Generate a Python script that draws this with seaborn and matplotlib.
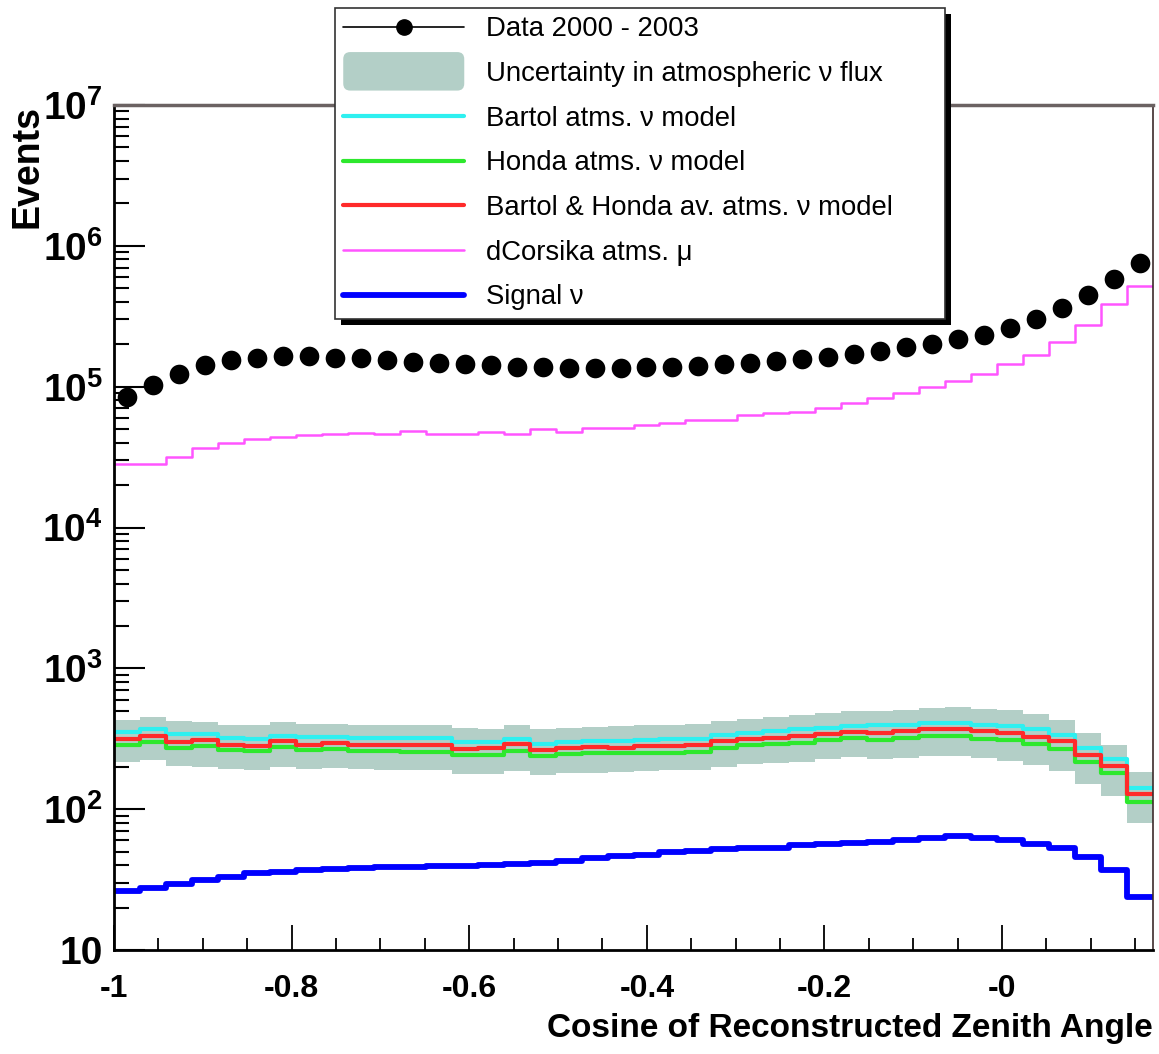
import numpy as np
import pandas as pd
import seaborn as sns
import matplotlib.pyplot as plt
from matplotlib.lines import Line2D
from matplotlib.patches import Patch, FancyBboxPatch, Rectangle
from matplotlib.legend_handler import HandlerPatch
from matplotlib.ticker import MultipleLocator, LogLocator, NullFormatter
from matplotlib.transforms import IdentityTransform

# Binning in cosine of the reconstructed zenith angle
cos_min, cos_max, n_bins = -1.0, 0.17, 40
edges = np.linspace(cos_min, cos_max, n_bins + 1)
centers = 0.5 * (edges[:-1] + edges[1:])

# Observed events per bin
data_events = [8.5e4, 1.03e5, 1.23e5, 1.42e5, 1.55e5, 1.60e5, 1.66e5, 1.66e5, 1.61e5, 1.59e5,
               1.55e5, 1.50e5, 1.48e5, 1.44e5, 1.42e5, 1.38e5, 1.37e5, 1.35e5, 1.35e5, 1.35e5,
               1.37e5, 1.38e5, 1.40e5, 1.45e5, 1.48e5, 1.53e5, 1.57e5, 1.63e5, 1.71e5, 1.79e5,
               1.90e5, 2.01e5, 2.17e5, 2.33e5, 2.60e5, 3.01e5, 3.60e5, 4.48e5, 5.78e5, 7.52e5]

# Simulated atmospheric muons (dCorsika)
corsika_mu = [2.81e4, 2.81e4, 3.18e4, 3.68e4, 4.00e4, 4.23e4, 4.41e4, 4.55e4, 4.60e4, 4.68e4,
              4.60e4, 4.81e4, 4.60e4, 4.60e4, 4.79e4, 4.60e4, 5.02e4, 4.76e4, 5.08e4, 5.08e4,
              5.38e4, 5.54e4, 5.80e4, 5.80e4, 6.29e4, 6.46e4, 6.64e4, 7.01e4, 7.61e4, 8.26e4,
              9.05e4, 9.98e4, 1.10e5, 1.24e5, 1.45e5, 1.69e5, 2.08e5, 2.74e5, 3.84e5, 5.18e5]

# Atmospheric neutrino models
bartol_nu = [353, 369, 344, 344, 320, 317, 330, 326, 328, 322,
             322, 320, 320, 301, 301, 317, 292, 301, 305, 304,
             312, 314, 317, 338, 350, 357, 369, 377, 392, 394,
             398, 409, 409, 398, 390, 369, 338, 270, 226, 142]
honda_nu = [285, 301, 273, 279, 263, 258, 277, 261, 267, 258,
            258, 255, 255, 242, 242, 258, 238, 245, 251, 249,
            251, 251, 255, 273, 285, 288, 297, 309, 320, 312,
            320, 330, 330, 317, 308, 292, 267, 215, 180, 113]
average_nu = [314, 331, 301, 308, 285, 282, 305, 285, 296, 285,
              285, 285, 285, 267, 270, 288, 263, 270, 277, 273,
              282, 282, 285, 304, 317, 321, 330, 344, 355, 350,
              357, 369, 369, 357, 350, 326, 304, 242, 203, 128]

# Uncertainty band of the atmospheric neutrino flux
flux_high = [428, 451, 421, 416, 398, 394, 416, 405, 405, 398,
             398, 398, 398, 377, 369, 398, 373, 377, 384, 390,
             394, 398, 405, 421, 439, 451, 463, 484, 495, 494,
             508, 522, 528, 516, 508, 476, 428, 350, 285, 185]
flux_low = [217, 223, 203, 200, 193, 190, 200, 193, 195, 193,
            190, 190, 190, 177, 177, 187, 175, 180, 182, 185,
            187, 190, 190, 200, 208, 211, 217, 226, 235, 226,
            232, 240, 240, 229, 219, 206, 187, 150, 125, 80]

# Signal neutrinos
signal_nu = [26.2, 27.4, 29.6, 31.2, 33.0, 35.0, 36.0, 36.8, 37.8, 38.4,
             39.0, 38.6, 39.2, 39.6, 40.0, 40.6, 41.6, 42.7, 45.1, 46.4,
             47.6, 49.5, 50.8, 52.5, 53.1, 53.3, 56.0, 56.9, 57.5, 58.5,
             60.1, 62.4, 64.9, 62.4, 60.1, 56.6, 53.1, 45.6, 36.7, 23.8]

x_ticks = [-1.0, -0.8, -0.6, -0.4, -0.2, 0.0]
x_tick_labels = ["-1", "-0.8", "-0.6", "-0.4", "-0.2", "-0"]
y_ticks = [1e1, 1e2, 1e3, 1e4, 1e5, 1e6, 1e7]
y_tick_labels = ["10", r"$\mathbf{10^{2}}$", r"$\mathbf{10^{3}}$", r"$\mathbf{10^{4}}$",
                 r"$\mathbf{10^{5}}$", r"$\mathbf{10^{6}}$", r"$\mathbf{10^{7}}$"]

df = pd.DataFrame({
    "cos_zenith": centers,
    "bartol": bartol_nu,
    "honda": honda_nu,
    "average": average_nu,
    "corsika": corsika_mu,
    "signal": signal_nu,
})

band_color = "#b3cfc7"
step_styles = [
    ("bartol", "#2ef0f0", 3.0, "Bartol atms. \u03bd model"),
    ("honda", "#2de82d", 3.0, "Honda atms. \u03bd model"),
    ("average", "#ff2a2a", 3.0, "Bartol & Honda av. atms. \u03bd model"),
    ("corsika", "#ff55ff", 1.8, "dCorsika atms. \u03bc"),
    ("signal", "#0000ff", 4.2, "Signal \u03bd"),
]

sns.set_theme(style="ticks")
plt.rcParams["font.family"] = ["Liberation Sans", "DejaVu Sans"]
plt.rcParams["mathtext.fontset"] = "custom"
plt.rcParams["mathtext.rm"] = "Liberation Sans"
plt.rcParams["mathtext.bf"] = "Liberation Sans:bold"
plt.rcParams["text.color"] = "black"
plt.rcParams["axes.labelcolor"] = "black"

fig = plt.figure(figsize=(11.59, 10.54), dpi=100)
ax = fig.add_axes([114 / 1159, 104 / 1054, 1039 / 1159, 845 / 1054])

# Flux uncertainty band
ax.fill_between(edges, np.append(flux_low, flux_low[-1]), np.append(flux_high, flux_high[-1]),
                step="post", color=band_color, linewidth=0, zorder=1)

# Histogram style step lines
for col, color, lw, _ in step_styles:
    sns.histplot(data=df, x="cos_zenith", weights=col, bins=n_bins, binrange=(cos_min, cos_max),
                 element="step", fill=False, color=color, linewidth=lw, ax=ax, zorder=2)

# Data points
sns.scatterplot(x=centers, y=data_events, color="black", s=200, linewidth=0,
                ax=ax, zorder=5, clip_on=False)

ax.set_yscale("log")
ax.set_xlim(cos_min, cos_max)
ax.set_ylim(10, 1e7)

ax.set_xticks(x_ticks, x_tick_labels, fontsize=23, fontweight="bold", color="black")
ax.xaxis.set_minor_locator(MultipleLocator(0.05))
ax.set_yticks(y_ticks, y_tick_labels, fontsize=28, fontweight="bold", color="black")
ax.yaxis.set_minor_locator(LogLocator(base=10, subs=np.arange(2, 10)))
ax.yaxis.set_minor_formatter(NullFormatter())

ax.tick_params(axis="x", which="major", direction="in", length=18, width=1.3, pad=17, colors="black")
ax.tick_params(axis="x", which="minor", direction="in", length=9, width=1.3, colors="black")
ax.tick_params(axis="y", which="major", direction="in", length=22, width=1.5, pad=8, colors="black")
ax.tick_params(axis="y", which="minor", direction="in", length=11, width=1.5, colors="black")
ax.tick_params(top=False, right=False, which="both")

for side in ["left", "bottom"]:
    ax.spines[side].set_color("black")
    ax.spines[side].set_linewidth(2.0)
ax.spines["top"].set_color("#6b6262")
ax.spines["top"].set_linewidth(2.5)
ax.spines["right"].set_color("#3d2b2b")
ax.spines["right"].set_linewidth(1.2)

ax.set_xlabel("Cosine of Reconstructed Zenith Angle", fontsize=24, fontweight="bold",
              loc="right")
ax.xaxis.set_label_coords(1.0, -0.074)
ax.set_ylabel("Events", fontsize=27, fontweight="bold", loc="top")
ax.yaxis.set_label_coords(-0.066, 1.0)


def band_handle(legend, orig_handle, xdescent, ydescent, width, height, fontsize):
    return FancyBboxPatch((-xdescent, -ydescent - 0.5 * height), width, 2.0 * height,
                          boxstyle="round,pad=0,rounding_size=5")


handles = [Line2D([], [], color="black", linewidth=1.2, marker="o", markersize=11),
           Patch(facecolor=band_color, edgecolor="none")]
labels = ["Data 2000 - 2003", "Uncertainty in atmospheric \u03bd flux"]
for col, color, lw, label in step_styles:
    handles.append(Line2D([], [], color=color, linewidth=lw))
    labels.append(label)

leg = fig.legend(handles, labels, loc="upper left",
                 bbox_to_anchor=(335 / 1159, 1 - 8 / 1054, 610 / 1159, 0), mode="expand",
                 borderaxespad=0, borderpad=0.3, fontsize=19.8, labelspacing=0.68,
                 handlelength=4.4, handletextpad=0.8, numpoints=1, fancybox=False,
                 frameon=True, framealpha=1, edgecolor="#333333", labelcolor="black",
                 handler_map={Patch: HandlerPatch(patch_func=band_handle)})
leg.get_frame().set_linewidth(1.2)
leg.set_zorder(10)

# Solid drop shadow behind the legend box
fig.canvas.draw()
bb = leg.get_window_extent()
fig.add_artist(Rectangle((bb.x0 + 6, bb.y0 - 6), bb.width, bb.height, transform=IdentityTransform(),
                         facecolor="black", edgecolor="none", zorder=9))

plt.savefig("out.png", dpi=100)
